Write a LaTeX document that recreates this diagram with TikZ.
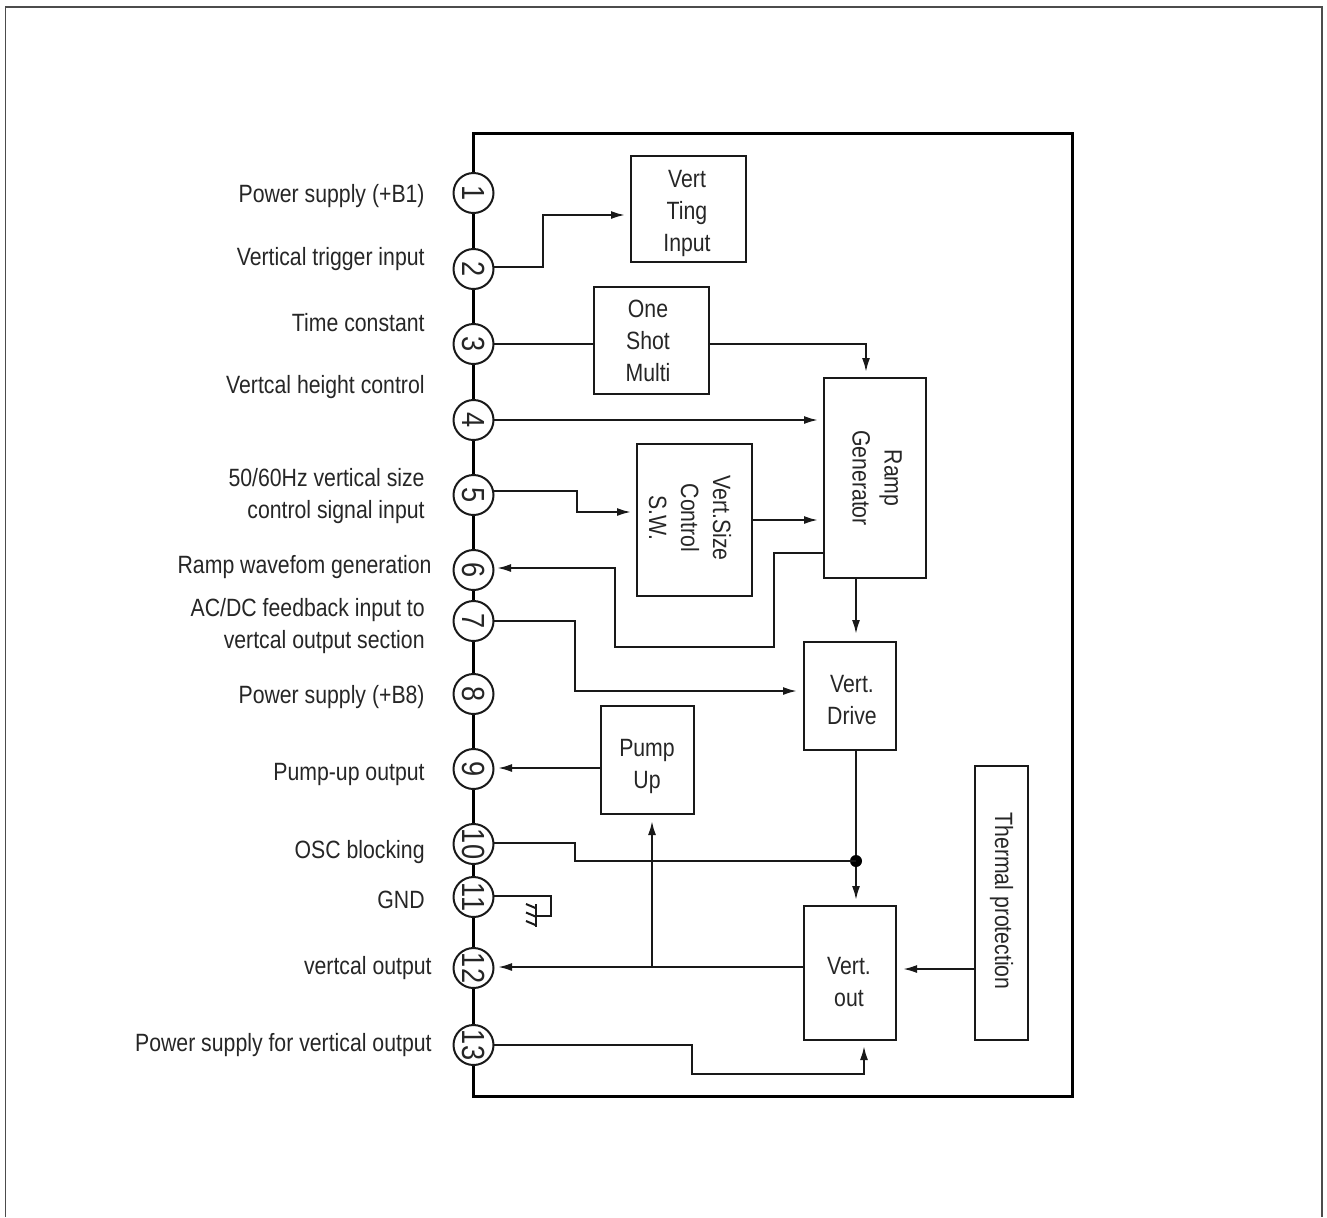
\documentclass[tikz,border=0pt]{standalone}
\usepackage{fontspec}
\setmainfont[FakeStretch=0.85]{Liberation Sans}
\usetikzlibrary{arrows.meta}
\tikzset{
  conn/.style={line width=1pt,black!90},
  arr/.style={conn,-{Latex[length=7pt,width=4pt]}},
  pin/.style={circle,draw=black!90,fill=white,line width=1pt,minimum size=20pt,inner sep=0pt,font=\fontsize{16}{16}\selectfont,text=black!85},
  blk/.style={draw=black!90,line width=1pt,inner sep=0pt},
  blktxt/.style={inner sep=0pt,align=center,font=\fontsize{12.5}{16}\selectfont,text=black!85},
  lab/.style={anchor=east,align=right,inner sep=0pt,font=\fontsize{12.5}{16}\selectfont,text=black!85},
  pinlab/.style={pin,rotate=-90}
}
\begin{document}
\begin{tikzpicture}[x=0.5pt,y=-0.5pt]
\useasboundingbox (0,0) rectangle (1327,1217);
% outer frame (open at the bottom)
\coordinate (fa) at (5.5,1217);
\coordinate (fb) at (5.5,7);
\coordinate (fc) at (1322,7);
\coordinate (fd) at (1322,1217);
\draw[black!70,line width=0.8pt] (fa) -- (fb) -- (fc) -- (fd);
% IC body
\draw[black,line width=1.5pt] (473,133) rectangle (1072,1096);
% pins
\foreach \n/\y in {1/193,2/269,3/344,4/420,5/495,6/570,7/621,8/694,9/769,10/844,11/897,12/968,13/1045}
  \node[pinlab] (p\n) at (473.5,\y) {\n};
% blocks
\node[blk,minimum width=57.5pt,minimum height=53pt] (ting) at (688.5,209) {};
\node[blktxt] (tingt) at (687,213) {Vert\\Ting\\Input};
\node[blk,minimum width=57.5pt,minimum height=53.5pt] (shot) at (651.5,340.5) {};
\node[blktxt] (shott) at (648,340.5) {One\\Shot\\Multi};
\node[blk,minimum width=51pt,minimum height=100pt] (ramp) at (875,478) {};
\node[blktxt,rotate=-90] (rampt) at (877,478) {Ramp\\Generator};
\node[blk,minimum width=57.5pt,minimum height=76pt] (size) at (694.5,520) {};
\node[blktxt,rotate=-90] (sizet) at (690,518) {Vert.Size\\Control\\S.W.};
\node[blk,minimum width=46pt,minimum height=54pt] (drive) at (850,696) {};
\node[blktxt] (drivet) at (852,700) {Vert.\\Drive};
\node[blk,minimum width=46.5pt,minimum height=54pt] (pump) at (647.5,760) {};
\node[blktxt] (pumpt) at (647,766) {Pump\\Up};
\node[blk,minimum width=46pt,minimum height=67pt] (vout) at (850,973) {};
\node[blktxt] (voutt) at (849,982) {Vert.\\out};
\node[blk,minimum width=26.5pt,minimum height=137pt] (therm) at (1001.5,903) {};
\node[blktxt,rotate=-90] (thermt) at (1001.5,901) {Thermal protection};
% labels
\node[lab] (l1) at (425,196) {Power supply (+B1)};
\node[lab] (l2) at (425,259) {Vertical trigger input};
\node[lab] (l3) at (425,323) {Time constant};
\node[lab] (l4) at (425,387) {Vertcal height control};
\node[lab] (l5) at (425,496) {50/60Hz vertical size\\control signal input};
\node[lab] (l6) at (432,567) {Ramp wavefom generation};
\node[lab] (l7) at (425,626) {AC/DC feedback input to\\vertcal output section};
\node[lab] (l8) at (425,697) {Power supply (+B8)};
\node[lab] (l9) at (425,774) {Pump-up output};
\node[lab] (l10) at (425,852) {OSC blocking};
\node[lab] (l11) at (425,900) {GND};
\node[lab] (l12) at (432,968) {vertcal output};
\node[lab] (l13) at (432,1045) {Power supply for vertical output};
% connectors
\coordinate (a1) at (493.5,267);
\coordinate (a2) at (543,267);
\coordinate (a2b) at (543,215);
\coordinate (a2c) at (625,215);
\draw[arr] (a1) -- (a2) -- (a2b) -- (a2c);
\coordinate (s0) at (493.5,344);
\coordinate (s0b) at (594,344);
\draw[conn] (s0) -- (s0b);
\coordinate (s1s) at (709,344);
\coordinate (s1) at (866,344);
\coordinate (s2) at (866,372);
\draw[arr] (s1s) -- (s1) -- (s2);
\coordinate (r4s) at (493.5,420);
\coordinate (r4) at (818,420);
\draw[arr] (r4s) -- (r4);
\coordinate (c5s) at (493.5,491);
\coordinate (c5a) at (577,491);
\coordinate (c5b) at (577,512);
\coordinate (c5c) at (631,512);
\draw[arr] (c5s) -- (c5a) -- (c5b) -- (c5c);
\coordinate (sz) at (752,520);
\coordinate (szr) at (818,520);
\draw[arr] (sz) -- (szr);
\coordinate (f1) at (824,553);
\coordinate (f2) at (773.5,553);
\coordinate (f3) at (773.5,647);
\coordinate (f4) at (614.5,647);
\coordinate (f5) at (614.5,568);
\coordinate (f6) at (497,568);
\draw[arr] (f1) -- (f2) -- (f3) -- (f4) -- (f5) -- (f6);
\coordinate (c7s) at (493.5,621);
\coordinate (c7a) at (575,621);
\coordinate (c7b) at (575,691);
\coordinate (c7c) at (797,691);
\draw[arr] (c7s) -- (c7a) -- (c7b) -- (c7c);
\coordinate (rd) at (856,578);
\coordinate (dd) at (856,634);
\draw[arr] (rd) -- (dd);
\coordinate (j) at (856,861);
\coordinate (vt) at (856,900);
\coordinate (db) at (856,750);
\draw[arr] (db) -- (vt);
\fill[black] (j) circle (3pt);
\coordinate (c10s) at (493.5,843);
\coordinate (c10a) at (575,843);
\coordinate (c10b) at (575,861);
\draw[conn] (c10s) -- (c10a) -- (c10b) -- (j);
% ground
\coordinate (g0) at (493.5,896);
\coordinate (g1) at (551,896);
\coordinate (g2) at (551,916);
\coordinate (g3) at (535.5,916);
\coordinate (gt) at (535.5,904);
\coordinate (gb) at (535.5,927);
\draw[conn] (g0) -- (g1) -- (g2) -- (g3);
\draw[conn] (gt) -- (gb);
\draw[conn] (535.5,908) -- (526,904);
\draw[conn] (535.5,916.5) -- (526,912.5);
\draw[conn] (535.5,925) -- (526,921);
% outputs
\coordinate (v1) at (804,967);
\coordinate (v2) at (498,967);
\draw[arr] (v1) -- (v2);
\coordinate (t1) at (652,967);
\coordinate (t2) at (652,821);
\draw[arr] (t1) -- (t2);
\coordinate (pu) at (601,768);
\coordinate (pu2) at (498,768);
\draw[arr] (pu) -- (pu2);
\coordinate (th) at (975,969);
\coordinate (th2) at (903,969);
\draw[arr] (th) -- (th2);
\coordinate (c13s) at (493.5,1045);
\coordinate (c13a) at (692,1045);
\coordinate (c13b) at (692,1074);
\coordinate (c13c) at (864,1074);
\coordinate (c13d) at (864,1046);
\draw[arr] (c13s) -- (c13a) -- (c13b) -- (c13c) -- (c13d);
\end{tikzpicture}
\end{document}
